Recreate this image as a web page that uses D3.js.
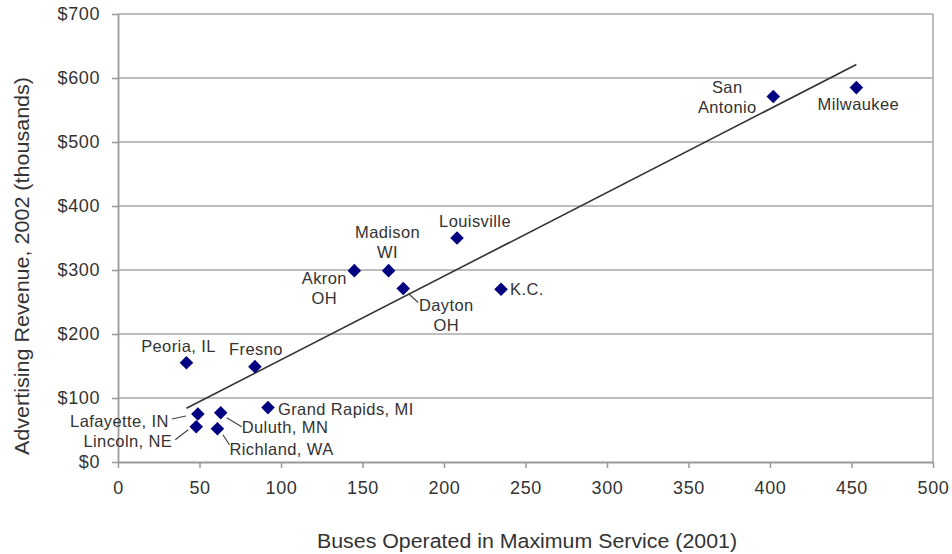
<!DOCTYPE html>
<html>
<head>
<meta charset="utf-8">
<script src="https://cdn.jsdelivr.net/npm/d3@7/dist/d3.min.js"></script>
<style>
  html, body { margin: 0; padding: 0; background: #fff; }
  svg { display: block; font-family: "Liberation Sans", Arial, sans-serif; }
</style>
</head>
<body>
<svg id="chart" width="952" height="554"></svg>
<script>
// ---- data ----
const cities  = ["Peoria, IL", "Fresno", "Lafayette, IN", "Lincoln, NE", "Duluth, MN", "Richland, WA",
                 "Grand Rapids, MI", "Akron\nOH", "Madison\nWI", "Dayton\nOH", "Louisville", "K.C.",
                 "San\nAntonio", "Milwaukee"];
const buses   = [42, 84, 49, 48, 63, 61, 92, 145, 166, 175, 208, 235, 402, 453];
const revenue = [155, 149, 75, 55, 77, 52, 85, 299, 299, 271, 350, 270, 571, 585];
const trendX  = [42, 453];
const trendY  = [84, 621];
const xTicks  = [0, 50, 100, 150, 200, 250, 300, 350, 400, 450, 500];
const yTicks  = [0, 100, 200, 300, 400, 500, 600, 700];
const xTitle  = "Buses Operated in Maximum Service (2001)";
const yTitle  = "Advertising Revenue, 2002 (thousands)";

// ---- label layout (pixel offsets from each point) ----
const labelLayout = [
  { anchor: "middle", dx: -8,  dy: -11 },
  { anchor: "middle", dx: 1,   dy: -12 },
  { anchor: "end",    dx: -29, dy: 13,  leader: [-26, 5, -12, 2] },
  { anchor: "end",    dx: -24, dy: 20,  leader: [-21, 13, -8, 3] },
  { anchor: "start",  dx: 21,  dy: 20,  leader: [6, 5, 21, 14] },
  { anchor: "start",  dx: 12,  dy: 26,  leader: [5.5, 6, 12, 16] },
  { anchor: "start",  dx: 10,  dy: 7 },
  { anchor: "middle", dx: -30, dy: 13 },
  { anchor: "middle", dx: -1,  dy: -33 },
  { anchor: "middle", dx: 43,  dy: 22,  leader: [5, 5, 15, 14] },
  { anchor: "middle", dx: 18,  dy: -11 },
  { anchor: "start",  dx: 9,   dy: 6 },
  { anchor: "middle", dx: -46, dy: -4 },
  { anchor: "middle", dx: 2,   dy: 22 }
];

const svg = d3.select("#chart");
const L = 118, R = 933, T = 14, B = 462;

const x = d3.scaleLinear().domain([0, 500]).range([L, R]);
const y = d3.scaleLinear().domain([0, 700]).range([B, T]);

// gridlines
svg.append("g")
  .selectAll("line").data(yTicks.filter(d => d > 0)).join("line")
  .attr("x1", L).attr("x2", R)
  .attr("y1", d => y(d)).attr("y2", d => y(d))
  .attr("stroke", "#a9a9a9").attr("stroke-width", 1.5);

// right border
svg.append("line")
  .attr("x1", R).attr("x2", R).attr("y1", y(700)).attr("y2", B)
  .attr("stroke", "#a9a9a9").attr("stroke-width", 1.5);

// x axis
const xAxis = svg.append("g")
  .attr("transform", `translate(0,${B})`)
  .call(d3.axisBottom(x).tickValues(xTicks).tickSize(6).tickPadding(13).tickSizeOuter(0));
xAxis.select(".domain").attr("stroke", "#9a9a9a").attr("stroke-width", 1.8);
xAxis.selectAll(".tick line").attr("stroke", "#9a9a9a").attr("stroke-width", 1.5);
xAxis.selectAll(".tick text")
  .attr("font-size", 18).attr("fill", "#333").attr("font-family", "Liberation Sans, Arial, sans-serif")
  .attr("letter-spacing", 0.6);

// y axis
const yAxis = svg.append("g")
  .attr("transform", `translate(${L},0)`)
  .call(d3.axisLeft(y).tickValues(yTicks).tickFormat(d => "$" + d).tickSize(6).tickPadding(12).tickSizeOuter(0));
yAxis.select(".domain").attr("stroke", "#9a9a9a").attr("stroke-width", 1.8);
yAxis.selectAll(".tick line").attr("stroke", "#9a9a9a").attr("stroke-width", 1.5);
yAxis.selectAll(".tick text")
  .attr("font-size", 18).attr("fill", "#333").attr("font-family", "Liberation Sans, Arial, sans-serif")
  .attr("letter-spacing", 0.6);

// axis titles
svg.append("text")
  .attr("x", 527).attr("y", 548)
  .attr("text-anchor", "middle")
  .attr("font-size", 20).attr("fill", "#333")
  .attr("textLength", 420).attr("lengthAdjust", "spacingAndGlyphs")
  .text(xTitle);

svg.append("text")
  .attr("transform", "translate(29,266) rotate(-90)")
  .attr("text-anchor", "middle")
  .attr("font-size", 21).attr("fill", "#333")
  .attr("textLength", 378).attr("lengthAdjust", "spacingAndGlyphs")
  .text(yTitle);

// trend line
svg.append("line")
  .attr("x1", x(trendX[0])).attr("y1", y(trendY[0]))
  .attr("x2", x(trendX[1])).attr("y2", y(trendY[1]))
  .attr("stroke", "#333").attr("stroke-width", 1.6);

// points
const pts = cities.map((c, i) => ({ name: c, px: x(buses[i]), py: y(revenue[i]), lay: labelLayout[i] }));

// leader lines
svg.append("g")
  .selectAll("line").data(pts.filter(p => p.lay.leader)).join("line")
  .attr("x1", p => p.px + p.lay.leader[0]).attr("y1", p => p.py + p.lay.leader[1])
  .attr("x2", p => p.px + p.lay.leader[2]).attr("y2", p => p.py + p.lay.leader[3])
  .attr("stroke", "#444").attr("stroke-width", 1.2);

const diamond = d3.symbol().type(d3.symbolSquare).size(92);
svg.append("g")
  .selectAll("path").data(pts).join("path")
  .attr("d", diamond)
  .attr("transform", p => `translate(${p.px},${p.py}) rotate(45)`)
  .attr("fill", "#000080");

// labels
const lab = svg.append("g")
  .selectAll("text").data(pts).join("text")
  .attr("x", p => p.px + p.lay.dx)
  .attr("y", p => p.py + p.lay.dy)
  .attr("text-anchor", p => p.lay.anchor)
  .attr("font-size", 16.5).attr("fill", "#333")
  .attr("letter-spacing", 0.4);
lab.each(function(p) {
  const lines = p.name.split("\n");
  d3.select(this).selectAll("tspan").data(lines).join("tspan")
    .attr("x", p.px + p.lay.dx)
    .attr("dy", (d, i) => i === 0 ? 0 : 20)
    .text(d => d);
});
</script>
</body>
</html>
